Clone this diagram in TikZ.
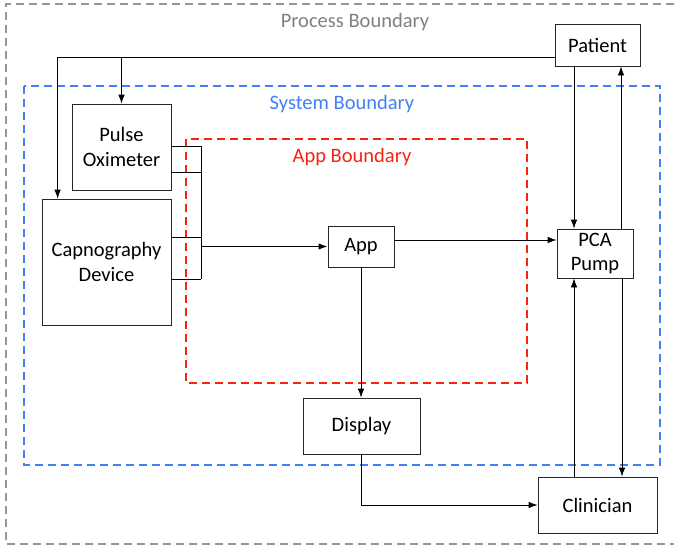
\documentclass[tikz,border=0pt]{standalone}
\usepackage{fontspec}
\setmainfont{Carlito}
\usetikzlibrary{arrows.meta}

\definecolor{procgray}{RGB}{150,150,150}
\definecolor{sysblue}{RGB}{66,128,245}
\definecolor{appred}{RGB}{245,35,15}

\tikzset{
  block/.style={draw=black!85, line width=0.8pt, align=center, inner sep=0pt,
    font=\fontsize{20.5}{24.5}\selectfont},
  boundary/.style={line width=1.8pt, dash pattern=on 8pt off 5pt},
  blabel/.style={font=\fontsize{20.5}{24.5}\selectfont},
  flow/.style={-{Latex[length=9pt,width=6.5pt]}, line width=0.8pt},
}

\begin{document}
\begin{tikzpicture}[x=1pt,y=-1pt]
\useasboundingbox (0,0) rectangle (674,546);

% boundaries
\draw[boundary, procgray] (674,4) -- (6,4) -- (6,544) -- (674,544);
\draw[boundary, sysblue] (24,86) rectangle (660,465);
\draw[boundary, appred] (186,139) rectangle (527,383);
\node[blabel, text=procgray!85!black] (proclbl) at (355,22) {Process Boundary};
\node[blabel, text=sysblue] (syslbl) at (342,104) {System Boundary};
\node[blabel, text=appred] (applbl) at (352,157) {App Boundary};

% blocks
\node[block, minimum width=85pt, minimum height=42pt] (Patient) at (597.5,45) {Patient};
\node[block, minimum width=99pt, minimum height=86pt] (Pulse) at (121.5,147) {Pulse\\Oximeter};
\node[block, minimum width=129pt, minimum height=126pt] (Capno) at (106.5,262) {Capnography\\Device};
\node[block, minimum width=66pt, minimum height=41pt] (App) at (361,246.5) {App};
\node[block, minimum width=76pt, minimum height=49pt] (PCA) at (595,253.5) {PCA\\Pump};
\node[block, minimum width=117pt, minimum height=56pt] (Display) at (361.5,426) {Display};
\node[block, minimum width=119pt, minimum height=56pt] (Clinician) at (597.5,505) {Clinician};

% patient to sensors
\draw[flow] ([yshift=-12pt]Patient.west) -| ([xshift=16pt]Capno.north west);
\draw[flow] (Pulse.north |- 0,57) -- (Pulse.north);

% sensor outputs joined on one bus into the app
\coordinate (bustop) at (201,146);
\coordinate (busbot) at (201,279);
\foreach \y in {146,172}
  \draw[line width=0.8pt] (Pulse.east |- 0,\y) -- (bustop |- 0,\y);
\foreach \y in {237,279}
  \draw[line width=0.8pt] (Capno.east |- 0,\y) -- (bustop |- 0,\y);
\draw[line width=0.8pt] (bustop) -- (busbot);
\draw[flow, line width=1.3pt] (bustop |- App.west) -- (App.west);

% app outputs
\draw[flow] (App.east |- 0,240) -- (PCA.west |- 0,240);
\draw[flow] (App.south) -- (App.south |- Display.north);
\draw[flow] (Display.south) |- (Clinician.west);

% pump loops
\draw[flow] ([xshift=-23.5pt]Patient.south) -- ([xshift=-21pt]PCA.north);
\draw[flow] ([xshift=26pt]PCA.north) -- ([xshift=23.5pt]Patient.south);
\draw[flow] ([xshift=27pt]PCA.south) -- ([xshift=24.5pt]Clinician.north);
\draw[flow] ([xshift=-23.5pt]Clinician.north) -- ([xshift=-21pt]PCA.south);
\end{tikzpicture}
\end{document}
